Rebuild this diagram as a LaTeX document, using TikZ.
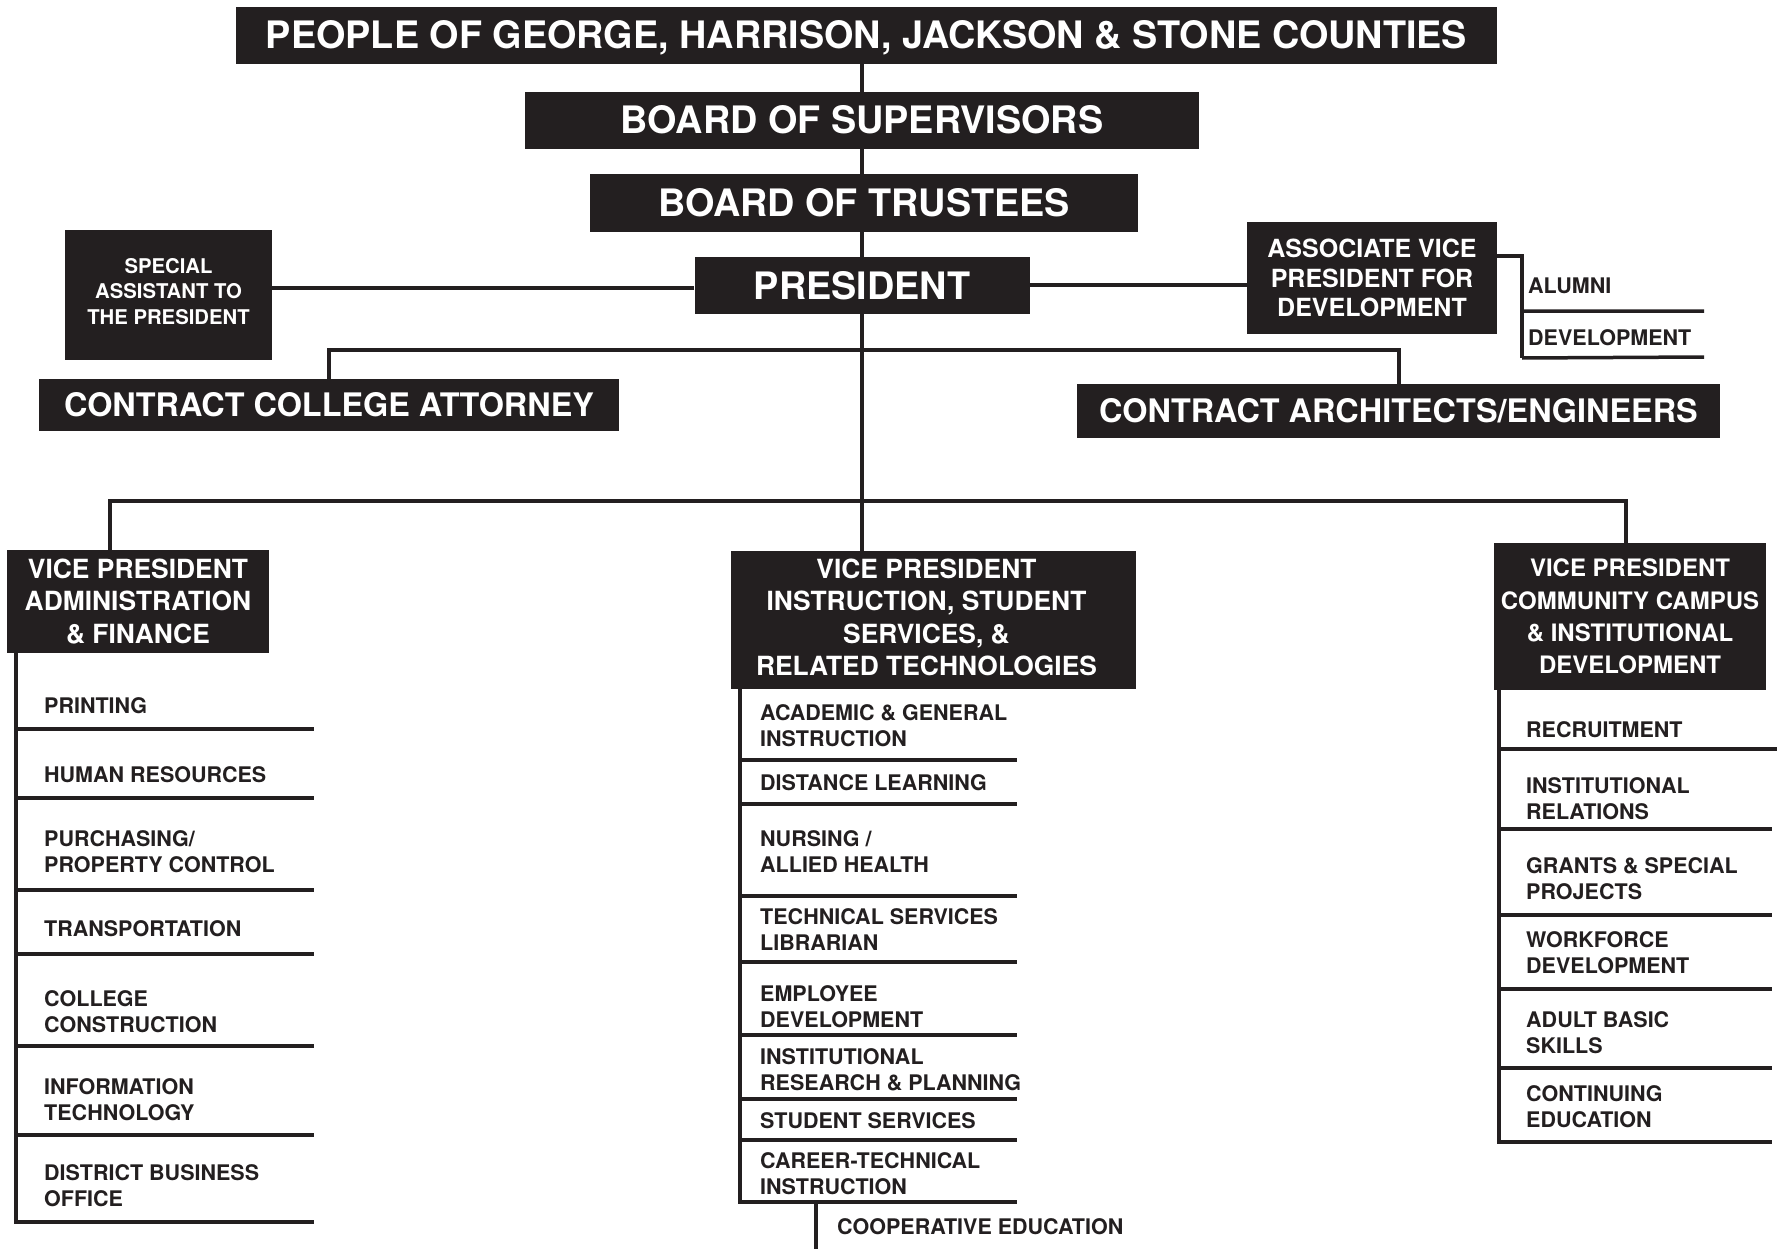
\documentclass[tikz,border=0pt]{standalone}
\usepackage{fontspec}
\setmainfont{TeX Gyre Heros}
\usepackage{tikz}
\definecolor{ink}{RGB}{35,31,32}
\tikzstyle{headbox} = [rectangle, fill=ink, text=white, inner sep=0pt, align=center,
    font=\bfseries\fontsize{37.8}{40}\selectfont]
\tikzstyle{titlebox} = [headbox, text height=27pt, text depth=0pt]
\tikzstyle{sidebox} = [titlebox, text height=23pt, font=\bfseries\fontsize{32.4}{36}\selectfont]
\tikzstyle{vpbox} = [headbox, font=\bfseries\fontsize{26.4}{32.3}\selectfont]
\tikzstyle{unit} = [anchor=west, align=left, inner sep=0pt, text=ink,
    font=\bfseries\fontsize{21.5}{26}\selectfont]
\tikzstyle{line} = [draw=ink, line width=4pt]

\begin{document}
\begin{tikzpicture}[x=1pt, y=-1pt]
    \useasboundingbox (0,0) rectangle (1785,1249);

    % Boards and president
    \node [titlebox, minimum width=1261pt, minimum height=57pt] (people) at (866.5,35.5)
        {PEOPLE OF GEORGE, HARRISON, JACKSON \& STONE COUNTIES};
    \node [titlebox, minimum width=674pt, minimum height=57pt] (supervisors) at (862,120.5)
        {BOARD OF SUPERVISORS};
    \node [titlebox, minimum width=548pt, minimum height=58pt] (trustees) at (864,203)
        {BOARD OF TRUSTEES};
    \node [titlebox, minimum width=335pt, minimum height=57pt] (president) at (862,285.5)
        {PRESIDENT};

    % Staff beside the president
    \node [headbox, minimum width=207pt, minimum height=130pt, text depth=8pt,
        font=\bfseries\fontsize{20.3}{25.5}\selectfont]
        (assistant) at (168.5,295) {SPECIAL\\ASSISTANT TO\\THE PRESIDENT};
    \node [headbox, minimum width=250pt, minimum height=112pt, font=\bfseries\fontsize{25}{29.6}\selectfont]
        (assocvp) at (1372,278) {ASSOCIATE VICE\\PRESIDENT FOR\\DEVELOPMENT};
    \node [unit] (alumni) at (1528,286) {ALUMNI};
    \node [unit] (development) at (1528,338) {DEVELOPMENT};

    % Contract services
    \node [sidebox, minimum width=580pt, minimum height=52pt] (attorney) at (329,405)
        {CONTRACT COLLEGE ATTORNEY};
    \node [sidebox, minimum width=643pt, minimum height=54pt] (architects) at (1398.5,411)
        {CONTRACT ARCHITECTS/ENGINEERS};

    % Vice presidents
    \node [vpbox, minimum width=262pt, minimum height=103pt] (vpadmin) at (138,601.5)
        {VICE PRESIDENT\\ADMINISTRATION\\\& FINANCE};
    \node [vpbox, minimum width=405pt, minimum height=138pt,
        label={[vpbox, fill=none, xshift=-7pt, yshift=2.5pt]center:{VICE PRESIDENT\\INSTRUCTION, STUDENT\\SERVICES, \&\\RELATED TECHNOLOGIES}}]
        (vpinstr) at (933.5,620) {};
    \node [vpbox, minimum width=272pt, minimum height=147pt, font=\bfseries\fontsize{24}{32.3}\selectfont]
        (vpcommunity) at (1630,616.5) {VICE PRESIDENT\\COMMUNITY CAMPUS\\\& INSTITUTIONAL\\DEVELOPMENT};

    % Administration & finance units
    \node [unit] (printing) at (44,706) {PRINTING};
    \node [unit] (hr) at (44,775) {HUMAN RESOURCES};
    \node [unit] (purchasing) at (44,852) {PURCHASING/\\PROPERTY CONTROL};
    \node [unit] (transport) at (44,929) {TRANSPORTATION};
    \node [unit] (construction) at (44,1011.5) {COLLEGE\\CONSTRUCTION};
    \node [unit] (infotech) at (44,1100) {INFORMATION\\TECHNOLOGY};
    \node [unit] (business) at (44,1186) {DISTRICT BUSINESS\\OFFICE};

    % Instruction units
    \node [unit] (academic) at (760,726) {ACADEMIC \& GENERAL\\INSTRUCTION};
    \node [unit] (distance) at (760,783) {DISTANCE LEARNING};
    \node [unit] (nursing) at (760,852) {NURSING /\\ALLIED HEALTH};
    \node [unit] (techlib) at (760,929.5) {TECHNICAL SERVICES\\LIBRARIAN};
    \node [unit] (empdev) at (760,1007) {EMPLOYEE\\DEVELOPMENT};
    \node [unit] (research) at (760,1069.5) {INSTITUTIONAL\\RESEARCH \& PLANNING};
    \node [unit] (studserv) at (760,1121) {STUDENT SERVICES};
    \node [unit] (career) at (760,1174) {CAREER-TECHNICAL\\INSTRUCTION};
    \node [unit] (coop) at (837,1227) {COOPERATIVE EDUCATION};

    % Community campus units
    \node [unit] (recruit) at (1526,730) {RECRUITMENT};
    \node [unit] (relations) at (1526,798.5) {INSTITUTIONAL\\RELATIONS};
    \node [unit] (grants) at (1526,879) {GRANTS \& SPECIAL\\PROJECTS};
    \node [unit] (workforce) at (1526,953) {WORKFORCE\\DEVELOPMENT};
    \node [unit] (abe) at (1526,1033) {ADULT BASIC\\SKILLS};
    \node [unit] (conted) at (1526,1107) {CONTINUING\\EDUCATION};

    % Chain of command
    \draw [line] (people.south -| president) -- (supervisors.north -| president)
        (supervisors.south -| president) -- (trustees.north -| president)
        (trustees.south -| president) -- (president.north)
        (president.south) -- (vpinstr.north -| president);
    \draw [line] ([yshift=-3pt]president.west) -- ([yshift=-3pt]president.west -| assistant.east);
    \draw [line] (president.east) -- (assocvp.west |- president);

    % Development office
    \coordinate (devend) at (1522,358);
    \draw [line, line width=3.5pt] ([yshift=-34pt]assocvp.north east) -| (devend);
    \draw [line, line width=3.5pt] (devend |- 0,311) -- (1704,311) (devend) -- (1704,357);

    % Contract services
    \coordinate (legalbus) at (862,350);
    \draw [line] (attorney.north) |- (legalbus) -| (architects.north);

    % Vice presidents
    \coordinate (vpbus) at (862,501);
    \draw [line] ([xshift=-28pt]vpadmin.north) |- (vpbus) -| ([xshift=-4pt]vpcommunity.north);

    % Unit lists
    \coordinate (admend) at (16,1224);
    \draw [line] (vpadmin.south -| admend) -- (admend);
    \draw [line] (16,729) -- (314,729) (16,798) -- (314,798) (16,890) -- (314,890)
        (16,954) -- (314,954) (16,1046) -- (314,1046) (16,1135) -- (314,1135)
        (16,1222) -- (314,1222);

    \coordinate (instend) at (740,1204);
    \draw [line] (vpinstr.south -| instend) -- (instend);
    \draw [line] (740,760) -- (1017,760) (740,804) -- (1017,804) (740,896) -- (1017,896)
        (740,962) -- (1017,962) (740,1035) -- (1017,1035) (740,1099) -- (1017,1099)
        (740,1140) -- (1017,1140) (740,1202) -- (1017,1202);
    \coordinate (coopend) at (816,1249);
    \draw [line] (instend -| coopend) -- (coopend);

    \coordinate (comend) at (1499,1144);
    \draw [line] (vpcommunity.south -| comend) -- (comend);
    \draw [line] (1499,749) -- (1777,749) (1499,829) -- (1772,829) (1499,915) -- (1772,915)
        (1499,989) -- (1772,989) (1499,1068) -- (1772,1068) (1499,1142) -- (1772,1142);

\end{tikzpicture}
\end{document}
